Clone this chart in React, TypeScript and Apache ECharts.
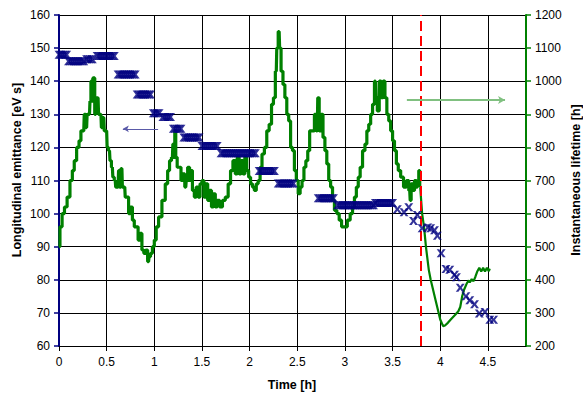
import React, { useEffect, useRef } from "react";
import * as echarts from "echarts";

// Longitudinal emittance [eV s] vs time [h] (left axis)
const emittance: [number, number][] = [
  [0, 148], [0.02, 148], [0.04, 148], [0.06, 148], [0.08, 148],
  [0.1, 146], [0.12, 146], [0.14, 146], [0.16, 146], [0.18, 146], [0.2, 146], [0.22, 146], [0.24, 146], [0.26, 146],
  [0.29, 146.6], [0.31, 146.6], [0.33, 146.6], [0.35, 146.6],
  [0.4, 147.6], [0.42, 147.6], [0.44, 147.6], [0.46, 147.6], [0.48, 147.6], [0.5, 147.6], [0.52, 147.6], [0.54, 147.6], [0.56, 147.6], [0.58, 147.6],
  [0.62, 142], [0.64, 142], [0.66, 142], [0.68, 142], [0.7, 142], [0.72, 142], [0.74, 142], [0.76, 142], [0.78, 142], [0.8, 142],
  [0.82, 136], [0.84, 136], [0.86, 136], [0.88, 136], [0.9, 136], [0.92, 136], [0.94, 136], [0.96, 136],
  [0.99, 130.3], [1.01, 130.3], [1.03, 130.3], [1.05, 130.3],
  [1.09, 129.2], [1.11, 129.2], [1.13, 129.2], [1.15, 129.2], [1.17, 129.2],
  [1.2, 125.6], [1.22, 125.6], [1.24, 125.6], [1.26, 125.6], [1.28, 125.6],
  [1.31, 123], [1.33, 123], [1.35, 123], [1.37, 123], [1.39, 123], [1.41, 123], [1.43, 123], [1.45, 123], [1.47, 123],
  [1.5, 120.4], [1.52, 120.4], [1.54, 120.4], [1.56, 120.4], [1.58, 120.4], [1.6, 120.4], [1.62, 120.4], [1.64, 120.4], [1.66, 120.4],
  [1.7, 118.2], [1.72, 118.2], [1.74, 118.2], [1.76, 118.2], [1.78, 118.2], [1.8, 118.2], [1.82, 118.2], [1.84, 118.2], [1.86, 118.2], [1.88, 118.2],
  [1.9, 118.2], [1.92, 118.2], [1.94, 118.2], [1.96, 118.2], [1.98, 118.2], [2.0, 118.2], [2.02, 118.2], [2.04, 118.2], [2.06, 118.2],
  [2.1, 112.9], [2.12, 112.9], [2.14, 112.9], [2.16, 112.9], [2.18, 112.9], [2.2, 112.9], [2.22, 112.9], [2.24, 112.9], [2.26, 112.9],
  [2.3, 109.1], [2.32, 109.1], [2.34, 109.1], [2.36, 109.1], [2.38, 109.1], [2.4, 109.1], [2.42, 109.1], [2.44, 109.1], [2.46, 109.1],
  [2.72, 104.6], [2.74, 104.6], [2.76, 104.6], [2.78, 104.6], [2.8, 104.6], [2.82, 104.6], [2.84, 104.6], [2.86, 104.6], [2.88, 104.6],
  [2.92, 102.5], [2.94, 102.5], [2.96, 102.5], [2.98, 102.5], [3.0, 102.5], [3.02, 102.5], [3.04, 102.5], [3.06, 102.5], [3.08, 102.5], [3.1, 102.5],
  [3.12, 102.5], [3.14, 102.5], [3.16, 102.5], [3.18, 102.5], [3.2, 102.5], [3.22, 102.5], [3.24, 102.5], [3.26, 102.5], [3.28, 102.5], [3.3, 102.5],
  [3.32, 103.2], [3.34, 103.2], [3.36, 103.2], [3.38, 103.2], [3.4, 103.2], [3.42, 103.2], [3.44, 103.2], [3.46, 103.2], [3.48, 103.2], [3.5, 103.2],
  [3.55, 101.3], [3.62, 100.4], [3.67, 101.9], [3.72, 97.8], [3.76, 99.6], [3.81, 95.6], [3.87, 95.8], [3.9, 95.6],
  [3.94, 95], [3.97, 93.3], [4.01, 88], [4.06, 83.3], [4.1, 83], [4.15, 81.5], [4.17, 80.8], [4.21, 77.6],
  [4.27, 75], [4.31, 73.8], [4.36, 72.6], [4.41, 69.8], [4.47, 70.3], [4.52, 67.9], [4.56, 67.9],
];

// Instantaneous lifetime [h] vs time [h] (right axis), before the event (stepped readout)
const lifetimeBefore: [number, number][] = [
  [0, 500], [0.02, 560], [0.045, 600], [0.07, 620], [0.1, 650], [0.13, 700], [0.15, 730], [0.17, 760], [0.2, 800],
  [0.22, 820], [0.24, 850], [0.26, 850], [0.27, 900], [0.29, 860], [0.3, 900], [0.32, 900], [0.33, 940], [0.34, 1000],
  [0.35, 940], [0.36, 1010], [0.37, 1010], [0.38, 900], [0.39, 950], [0.41, 950], [0.42, 900], [0.44, 900], [0.45, 860],
  [0.47, 890], [0.48, 850], [0.5, 850], [0.51, 800], [0.53, 790], [0.54, 760], [0.56, 740], [0.57, 710], [0.59, 700],
  [0.6, 680], [0.62, 680], [0.63, 730], [0.64, 680], [0.66, 736], [0.67, 680], [0.69, 680], [0.7, 650], [0.72, 650],
  [0.74, 600], [0.76, 620], [0.78, 580], [0.8, 560], [0.82, 560], [0.84, 520], [0.86, 540], [0.88, 490], [0.9, 480],
  [0.92, 490], [0.94, 455], [0.95, 470], [0.97, 480], [0.99, 500], [1.01, 520], [1.03, 560], [1.06, 590], [1.1, 640],
  [1.13, 690], [1.15, 730], [1.17, 760], [1.19, 770], [1.2, 810], [1.21, 770], [1.22, 850], [1.23, 770], [1.25, 740],
  [1.27, 740], [1.29, 700], [1.31, 720], [1.33, 680], [1.34, 700], [1.36, 740], [1.38, 700], [1.39, 730], [1.41, 670],
  [1.43, 650], [1.45, 680], [1.47, 650], [1.49, 690], [1.51, 700], [1.53, 650], [1.55, 690], [1.57, 640], [1.59, 670],
  [1.61, 620], [1.63, 660], [1.65, 620], [1.67, 640], [1.7, 620], [1.73, 640], [1.76, 650], [1.79, 690], [1.81, 730],
  [1.84, 760], [1.86, 720], [1.88, 770], [1.9, 720], [1.92, 760], [1.94, 720], [1.96, 770], [1.98, 730], [2.0, 710],
  [2.02, 690], [2.04, 680], [2.06, 670], [2.08, 690], [2.1, 700], [2.12, 740], [2.14, 780], [2.17, 800], [2.19, 850],
  [2.22, 870], [2.24, 930], [2.26, 950], [2.28, 1030], [2.29, 1100], [2.31, 1150], [2.32, 1100], [2.34, 1030], [2.36, 990],
  [2.38, 950], [2.4, 900], [2.42, 880], [2.44, 800], [2.46, 790], [2.48, 730], [2.5, 700], [2.52, 660], [2.54, 680],
  [2.56, 700], [2.58, 740], [2.6, 760], [2.62, 790], [2.64, 850], [2.67, 850], [2.69, 900], [2.71, 850], [2.72, 950],
  [2.74, 850], [2.76, 900], [2.78, 830], [2.8, 790], [2.82, 750], [2.84, 700], [2.86, 680], [2.88, 640], [2.9, 610],
  [2.93, 600], [2.95, 580], [2.98, 560], [3.01, 560], [3.04, 580], [3.07, 600], [3.09, 620], [3.11, 650], [3.13, 680],
  [3.15, 710], [3.17, 740], [3.2, 790], [3.22, 810], [3.24, 850], [3.26, 870], [3.28, 900], [3.3, 930], [3.32, 1000],
  [3.33, 950], [3.35, 910], [3.37, 1000], [3.39, 950], [3.41, 1000], [3.43, 950], [3.45, 900], [3.47, 880], [3.49, 850],
  [3.51, 820], [3.53, 790], [3.55, 750], [3.57, 730], [3.6, 710], [3.63, 680], [3.66, 700], [3.68, 670], [3.69, 640],
  [3.7, 690], [3.72, 670], [3.74, 700], [3.76, 680], [3.77, 700], [3.78, 730], [3.79, 680],
];

// Instantaneous lifetime [h] after the event
const lifetimeAfter: [number, number][] = [
  [3.79, 680], [3.81, 600], [3.83, 560], [3.85, 500], [3.88, 430], [3.9, 400], [3.95, 340], [4.0, 280], [4.03, 260],
  [4.05, 262], [4.08, 270], [4.12, 283], [4.16, 295], [4.19, 305], [4.21, 318], [4.23, 350], [4.25, 370], [4.28, 390],
  [4.3, 398], [4.31, 392], [4.33, 402], [4.35, 396], [4.37, 410], [4.39, 426], [4.41, 436], [4.43, 425], [4.45, 436],
  [4.47, 425], [4.49, 436], [4.51, 426], [4.52, 434],
];

// Marker line (dashed red) time and the two explanatory arrows [start, end]
const eventTime = 3.8;
const emitArrow: [number, number][] = [[1.04, 125.6], [0.67, 125.6]];
const lifeArrow: [number, number][] = [[3.65, 943], [4.68, 943]];

const FONT = '"Liberation Sans", Arial, Helvetica, sans-serif';
// filled star/X marker
const STAR =
  "path://M0,0L3,0L5,3.2L7,0L10,0L6.6,5L10,10L7,10L5,6.8L3,10L0,10L3.4,5Z";

export default function App() {
  const ref = useRef<HTMLDivElement>(null);
  useEffect(() => {
    if (!ref.current) return;
    const chart = echarts.init(ref.current, undefined, { renderer: "svg" });
    const tickLabel = { fontSize: 12, color: "#000", fontFamily: FONT, formatter: (v: number) => String(v) };
    chart.setOption({
      animation: false,
      backgroundColor: "#fff",
      textStyle: { fontFamily: FONT },
      grid: { left: 59, right: 57, top: 15, bottom: 47 },
      xAxis: {
        type: "value",
        min: 0,
        max: 4.9,
        interval: 0.5,
        axisLine: { show: true, onZero: false, lineStyle: { color: "#000", width: 1 } },
        axisTick: { show: true, length: 5, lineStyle: { color: "#000" } },
        axisLabel: { ...tickLabel, margin: 10, showMaxLabel: false },
        splitLine: { show: true, lineStyle: { color: "#000", width: 1 } },
      },
      yAxis: [
        {
          type: "value",
          min: 60,
          max: 160,
          interval: 10,
          position: "left",
          axisLine: { show: true, lineStyle: { color: "#000080", width: 2 } },
          axisTick: { show: true, length: 5, lineStyle: { color: "#000080", width: 1.5 } },
          axisLabel: { ...tickLabel, margin: 9 },
          splitLine: { show: true, lineStyle: { color: "#000", width: 1 } },
        },
        {
          type: "value",
          min: 200,
          max: 1200,
          interval: 100,
          position: "right",
          axisLine: { show: true, lineStyle: { color: "#008000", width: 2 } },
          axisTick: { show: true, length: 5, lineStyle: { color: "#008000", width: 1.5 } },
          axisLabel: { ...tickLabel, margin: 9 },
          splitLine: { show: false },
        },
      ],
      graphic: [
        {
          type: "text",
          x: 17,
          y: 170,
          rotation: Math.PI / 2,
          style: {
            text: "Longitudinal emittance [eV s]",
            fontSize: 12.5,
            fontWeight: "bold",
            fontFamily: FONT,
            fill: "#000",
            align: "center",
            verticalAlign: "middle",
          },
        },
        {
          type: "text",
          x: 576,
          y: 180,
          rotation: Math.PI / 2,
          style: {
            text: "Instantaneous lifetime [h]",
            fontSize: 12.5,
            fontWeight: "bold",
            fontFamily: FONT,
            fill: "#000",
            align: "center",
            verticalAlign: "middle",
          },
        },
        {
          type: "text",
          x: 292,
          y: 385,
          style: {
            text: "Time [h]",
            fontSize: 12.5,
            fontWeight: "bold",
            fontFamily: FONT,
            fill: "#000",
            align: "center",
            verticalAlign: "middle",
          },
        },
      ],
      series: [
        {
          name: "event",
          type: "line",
          data: [],
          yAxisIndex: 0,
          markLine: {
            silent: true,
            symbol: "none",
            label: { show: false },
            lineStyle: { color: "#ff0000", width: 2, type: [10, 5] },
            data: [{ xAxis: eventTime }],
          },
          z: 3,
        },
        {
          name: "Instantaneous lifetime",
          type: "line",
          yAxisIndex: 1,
          data: lifetimeBefore,
          symbol: "none",
          step: "middle",
          lineStyle: { color: "#008000", width: 3.2 },
          z: 4,
          markLine: {
            silent: true,
            symbol: ["none", "arrow"],
            symbolSize: [6, 7],
            label: { show: false },
            lineStyle: { color: "#80c080", width: 2, type: "solid" },
            data: [[{ coord: lifeArrow[0] }, { coord: lifeArrow[1] }]],
          },
        },
        {
          name: "Instantaneous lifetime (after)",
          type: "line",
          yAxisIndex: 1,
          data: lifetimeAfter,
          symbol: "none",
          lineStyle: { color: "#008000", width: 2.2 },
          z: 4,
        },
        {
          name: "Longitudinal emittance",
          type: "scatter",
          yAxisIndex: 0,
          data: emittance,
          symbol: STAR,
          symbolSize: [9, 8],
          itemStyle: { color: "#000080" },
          z: 5,
          markLine: {
            silent: true,
            symbol: ["none", "arrow"],
            symbolSize: [5, 6],
            label: { show: false },
            lineStyle: { color: "#5a5aa8", width: 1, type: "solid" },
            data: [[{ coord: emitArrow[0] }, { coord: emitArrow[1] }]],
          },
        },
      ],
    });
    return () => chart.dispose();
  }, []);
  return <div ref={ref} style={{ width: 583, height: 393, position: "absolute", left: 0, top: 0 }} />;
}
